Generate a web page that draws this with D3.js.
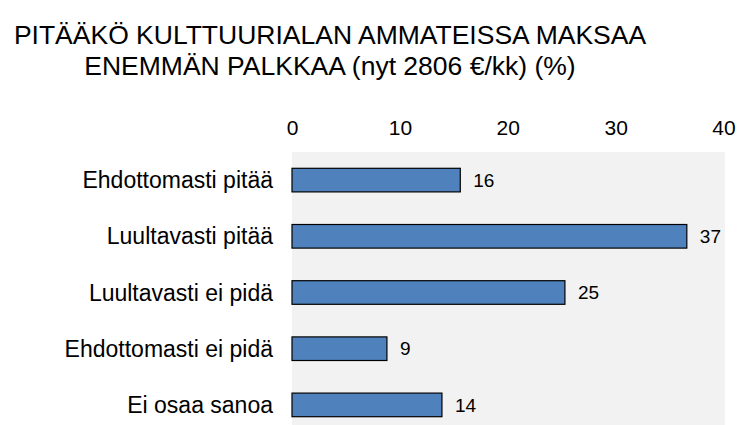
<!DOCTYPE html>
<html>
<head>
<meta charset="utf-8">
<script src="https://cdn.jsdelivr.net/npm/d3@7"></script>
<style>
  html, body { margin: 0; padding: 0; background: #fff; overflow: hidden; }
  svg text { font-family: "Liberation Sans", Arial, sans-serif; fill: #000; }
</style>
</head>
<body>
<svg id="chart" width="737" height="425"></svg>
<script>
// data
const TITLE_LINES = ['PITÄÄKÖ KULTTUURIALAN AMMATEISSA MAKSAA', 'ENEMMÄN PALKKAA (nyt 2806 €/kk) (%)'];
const CATEGORIES = ['Ehdottomasti pitää', 'Luultavasti pitää', 'Luultavasti ei pidä', 'Ehdottomasti ei pidä', 'Ei osaa sanoa'];
const VALUES = [15.6, 36.6, 25.3, 8.8, 13.9];
const X_TICKS = [0, 10, 20, 30, 40];

const svg = d3.select('#chart');

// plot area (bottom runs past the window, like the reference)
const plot = { left: 292, right: 725, top: 152, bottom: 433 };

const x = d3.scaleLinear().domain([0, 40]).range([plot.left, 723.5]);
const y = d3.scaleBand().domain(CATEGORIES).range([plot.top, plot.bottom])
  .paddingInner(0.58).paddingOuter(0.29);

// title
svg.append('g').selectAll('text')
  .data(TITLE_LINES)
  .join('text')
  .attr('x', 330)
  .attr('y', (d, i) => 44 + i * 31)
  .attr('text-anchor', 'middle')
  .style('font-size', '26.5px')
  .text(d => d);

// background
svg.append('rect')
  .attr('x', plot.left).attr('y', plot.top)
  .attr('width', plot.right - plot.left).attr('height', plot.bottom - plot.top)
  .attr('fill', '#f2f2f2');

// top axis, labels only
const xAxis = svg.append('g')
  .attr('transform', 'translate(0,135)')
  .call(d3.axisTop(x).tickValues(X_TICKS).tickSize(0).tickPadding(0));
xAxis.select('.domain').remove();
xAxis.selectAll('text').style('font-size', '21px').attr('dy', 0);

// category labels
svg.append('g').selectAll('text')
  .data(CATEGORIES)
  .join('text')
  .attr('x', 273)
  .attr('y', d => y(d) + y.bandwidth() / 2)
  .attr('dy', '0.35em')
  .attr('text-anchor', 'end')
  .style('font-size', '23px')
  .text(d => d);

// bars
svg.append('g').selectAll('rect')
  .data(VALUES)
  .join('rect')
  .attr('x', x(0))
  .attr('y', (d, i) => y(CATEGORIES[i]))
  .attr('width', d => x(d) - x(0))
  .attr('height', y.bandwidth())
  .attr('fill', '#4f81bd')
  .attr('stroke', '#000')
  .attr('stroke-width', 1.2);

// value labels
svg.append('g').selectAll('text')
  .data(VALUES)
  .join('text')
  .attr('x', d => x(d) + 13)
  .attr('y', (d, i) => y(CATEGORIES[i]) + y.bandwidth() / 2)
  .attr('dy', '0.35em')
  .style('font-size', '19px')
  .text(d => d3.format('.0f')(d));
</script>
</body>
</html>
